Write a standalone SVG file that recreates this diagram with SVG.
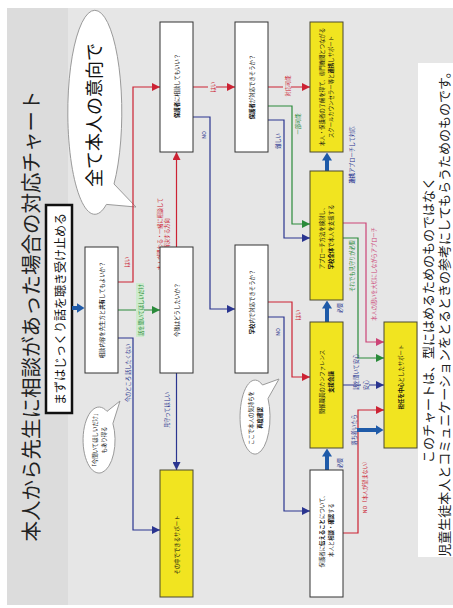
<svg xmlns="http://www.w3.org/2000/svg" width="453" height="608" viewBox="0 0 453 608">
<style>
.jp{font-family:"Noto Sans CJK JP","Noto Sans",sans-serif}
.nt{font-family:"Noto Sans CJK JP",sans-serif;font-size:5.4px;fill:#111;text-anchor:middle;dominant-baseline:central}
.lb{font-family:"Noto Sans CJK JP",sans-serif;font-size:5.2px;text-anchor:middle;dominant-baseline:central}
.wn rect{fill:#fff;stroke:#333;stroke-width:1}
.yn rect{fill:#f1e420;stroke:#4a4830;stroke-width:1}
.cr{fill:none;stroke:#cc2233;stroke-width:1.2}
.cg{fill:none;stroke:#2a8a3a;stroke-width:1.2}
.cb{fill:none;stroke:#2a3590;stroke-width:1.2}
.cp{fill:none;stroke:#cc4477;stroke-width:1.2}
.ct{fill:none;stroke:#1e5aa8;stroke-width:4}
.tr{fill:#cc2233}.tg{fill:#2a8a3a}.tb{fill:#2a3590}.tp{fill:#cc4477}.tt{fill:#1e5aa8}
.bub{fill:#fff;stroke:#9a9a9a;stroke-width:1}
</style>
<defs>
<marker id="ar" viewBox="0 0 8 8" refX="8" refY="4" markerWidth="8" markerHeight="8" markerUnits="userSpaceOnUse" orient="auto"><path d="M0,0 L8,4 L0,8 z" fill="#cc2233"/></marker>
<marker id="ag" viewBox="0 0 8 8" refX="8" refY="4" markerWidth="8" markerHeight="8" markerUnits="userSpaceOnUse" orient="auto"><path d="M0,0 L8,4 L0,8 z" fill="#2a8a3a"/></marker>
<marker id="ab" viewBox="0 0 8 8" refX="8" refY="4" markerWidth="8" markerHeight="8" markerUnits="userSpaceOnUse" orient="auto"><path d="M0,0 L8,4 L0,8 z" fill="#2a3590"/></marker>
<marker id="ap" viewBox="0 0 8 8" refX="8" refY="4" markerWidth="8" markerHeight="8" markerUnits="userSpaceOnUse" orient="auto"><path d="M0,0 L8,4 L0,8 z" fill="#cc4477"/></marker>
<marker id="at" viewBox="0 0 8 10" refX="0.5" refY="5" markerWidth="8" markerHeight="10" markerUnits="userSpaceOnUse" orient="auto"><path d="M0,0 L8,5 L0,10 z" fill="#1e5aa8"/></marker>
</defs>

<!-- background -->
<rect x="0" y="0" width="453" height="608" fill="#fff"/>
<rect x="7" y="8" width="446" height="597" fill="#e6e6e6"/>
<rect x="7" y="8" width="61" height="597" fill="#dcdcdc"/>
<rect x="418" y="63" width="35" height="494" fill="#fff"/>

<!-- title -->
<text class="jp" transform="translate(30 316) rotate(-90)" text-anchor="middle" dominant-baseline="central" font-size="20.5" fill="#222">本人から先生に相談があった場合の対応チャート</text>

<g id="start">
<rect x="46" y="205" width="26" height="208" fill="#fff" stroke="#111" stroke-width="2.5"/>
<text class="jp" transform="translate(59 309) rotate(-90)" text-anchor="middle" dominant-baseline="central" font-size="12" fill="#111">まずはじっくり話を聴き受け止める</text>
</g>

<g id="bubble-main">
<path class="bub" d="M114,184 A27 102 0 1 0 106.4,204.4 L136,207 Z"/>
<text class="jp" transform="translate(93 115) rotate(-90)" text-anchor="middle" dominant-baseline="central" font-size="18" fill="#111">全て本人の意向で</text>
</g>

<g id="bubble-a">
<path class="bub" d="M112.9,423.5 A16 33 0 1 1 107,411.4 L120,401 Z"/>
<text class="nt" transform="translate(99 440) rotate(-90)"><tspan x="0" dy="-4.5">「今聞いてほしいだけ」</tspan><tspan x="0" dy="9">もあり得る</tspan></text>
</g>

<g id="bubble-f">
<path class="bub" d="M268,398.5 A15 37 0 1 1 262.5,385 L279,379 Z"/>
<text class="nt" transform="translate(255 418) rotate(-90)"><tspan x="0" dy="-4.5">ここで本人の気持ちを</tspan><tspan x="0" dy="9" font-weight="bold">再度確認</tspan></text>
</g>

<!-- connectors -->
<g id="connectors">
<line class="ct" x1="72" y1="308" x2="77" y2="308" marker-end="url(#at)"/>
<polyline class="cr" points="118,282 133,282 133,87 160,87" marker-end="url(#ar)"/>
<polyline class="cg" points="118,310 160,310" marker-end="url(#ag)"/>
<polyline class="cb" points="118,338 133,338 133,530 160,530" marker-end="url(#ab)"/>
<polyline class="cr" points="176.5,247 176.5,152" marker-end="url(#ar)"/>
<polyline class="cb" points="176.5,373 176.5,470" marker-end="url(#ab)"/>
<polyline class="cr" points="193,87 235,87" marker-end="url(#ar)"/>
<polyline class="cb" points="193,117 210,117 210,309 235,309" marker-end="url(#ab)"/>
<polyline class="cr" points="268,87 310,87" marker-end="url(#ar)"/>
<polyline class="cg" points="268,106 292,106 292,224 310,224" marker-end="url(#ag)"/>
<polyline class="cb" points="268,120 284,120 284,238 310,238" marker-end="url(#ab)"/>
<polyline class="cr" points="268,302 292,302 292,377 310,377" marker-end="url(#ar)"/>
<polyline class="cb" points="268,317 284,317 284,511 310,511" marker-end="url(#ab)"/>
<line class="ct" x1="327" y1="171" x2="327" y2="160" marker-end="url(#at)"/>
<line class="ct" x1="327" y1="322" x2="327" y2="308" marker-end="url(#at)"/>
<line class="ct" x1="327" y1="470" x2="327" y2="456" marker-end="url(#at)"/>
<polyline class="cp" points="343,223 366,223 366,342 384,342" marker-end="url(#ap)"/>
<polyline class="cg" points="343,238 358,238 358,358 384,358" marker-end="url(#ag)"/>
<polyline class="cb" points="343,385 384,385" marker-end="url(#ab)"/>
<polyline class="cr" points="343,533 358,533 358,410 384,410" marker-end="url(#ar)"/>
<line class="ct" x1="357" y1="430" x2="376" y2="430" marker-end="url(#at)"/>

<!-- labels -->
<text class="lb tr" transform="translate(126 262) rotate(-90)">はい</text>
<rect x="136" y="283" width="8" height="54" fill="#cdebcd"/>
<text class="lb tg" transform="translate(140 310) rotate(-90)">話を聞いてほしいだけ</text>
<text class="lb tb" transform="translate(127 373) rotate(-90)">今のところ 話したくない</text>
<text class="lb tr" text-anchor="start" transform="translate(163 234) rotate(-90)"><tspan x="0" dy="-4">本人が関わる・一緒に相談して</tspan><tspan x="0" dy="7">解決する方向</tspan></text>
<text class="lb tb" transform="translate(166 410) rotate(-90)">見守ってほしい</text>
<rect x="208" y="80" width="8" height="14" fill="#e6e6e6"/>
<text class="lb tr" transform="translate(212 87) rotate(-90)">はい</text>
<text class="lb tb" transform="translate(203 135) rotate(-90)">NO</text>
<rect x="283" y="74" width="8" height="24" fill="#e6e6e6"/>
<text class="lb tr" transform="translate(287 86) rotate(-90)">対応可能</text>
<text class="lb tg" transform="translate(297 124) rotate(-90)">一部可能</text>
<text class="lb tb" transform="translate(277 141) rotate(-90)">難しい</text>
<text class="lb tr" transform="translate(297 315) rotate(-90)">はい</text>
<text class="lb tb" transform="translate(277 332) rotate(-90)">NO</text>
<text class="lb tb" transform="translate(351 155) rotate(-90)"><tspan font-weight="bold">連携</tspan>アプローチして対応</text>
<text class="lb tb" transform="translate(339 308) rotate(-90)">必要</text>
<text class="lb tb" transform="translate(339 463) rotate(-90)">必要</text>
<text class="lb tp" transform="translate(373 274) rotate(-90)">本人の思いを大切にしながらアプローチ</text>
<text class="lb tg" transform="translate(351 266) rotate(-90)">それでも見守りが必要</text>
<text class="lb tb" transform="translate(355 372) rotate(-90)">話を聞いて安心</text>
<rect x="361" y="379" width="8" height="13" fill="#e6e6e6"/>
<text class="lb tb" transform="translate(365 385) rotate(-90)">安心</text>
<text class="lb tb" transform="translate(353 430) rotate(-90)">落ち着いたら</text>
<text class="lb tr" transform="translate(364 486) rotate(-90)">NO（本人が望まない）</text>
</g>

<!-- nodes -->
<g id="nA" class="wn"><rect x="85" y="247" width="33" height="126"/>
<text class="nt" transform="translate(101.5 310) rotate(-90)">相談内容を先生方と<tspan font-weight="bold">共有</tspan>してもよいか？</text></g>
<g id="nB" class="wn"><rect x="160" y="247" width="33" height="126"/>
<text class="nt" transform="translate(176.5 310) rotate(-90)">今後はどうしたいか？</text></g>
<g id="nC" class="yn"><rect x="160" y="470" width="33" height="127"/>
<text class="nt" transform="translate(176.5 545) rotate(-90)">その中でできるサポート</text></g>
<g id="nD" class="wn"><rect x="160" y="22" width="33" height="130"/>
<text class="nt" transform="translate(176.5 86) rotate(-90)"><tspan font-weight="bold">保護者</tspan>に相談してもいい？</text></g>
<g id="nE" class="wn"><rect x="235" y="22" width="33" height="130"/>
<text class="nt" transform="translate(251.5 87) rotate(-90)"><tspan font-weight="bold">保護者</tspan>が対応できそうか？</text></g>
<g id="nF" class="wn"><rect x="235" y="245" width="33" height="128"/>
<text class="nt" transform="translate(251.5 302) rotate(-90)"><tspan font-weight="bold">学校</tspan>内で対応できそうか？</text></g>
<g id="nG" class="yn"><rect x="310" y="22" width="33" height="130"/>
<text class="nt" transform="translate(326.5 87) rotate(-90)"><tspan x="0" dy="-4.5">本人・保護者の了解を得て、専門機関とつながる</tspan><tspan x="0" dy="9">スクールカウンセラー等と<tspan font-weight="bold">連携</tspan>しサポート</tspan></text></g>
<g id="nH" class="yn"><rect x="310" y="171" width="33" height="129"/>
<text class="nt" transform="translate(326.5 237) rotate(-90)"><tspan x="0" dy="-4.5">アプローチ方法を検討し、</tspan><tspan x="0" dy="9"><tspan font-weight="bold">学校全体</tspan>で本人を支援する</tspan></text></g>
<g id="nI" class="yn"><rect x="310" y="322" width="33" height="126"/>
<text class="nt" transform="translate(326.5 382) rotate(-90)"><tspan x="0" dy="-4.5">関係職員のカンファレンス</tspan><tspan x="0" dy="9" font-weight="bold">支援会議</tspan></text></g>
<g id="nJ" class="wn"><rect x="310" y="470" width="33" height="127"/>
<text class="nt" transform="translate(326.5 530) rotate(-90)"><tspan x="0" dy="-4.5">保護者に<tspan font-weight="bold">伝えること</tspan>について、</tspan><tspan x="0" dy="9">本人と<tspan font-weight="bold">相談・確認</tspan>する</tspan></text></g>
<g id="nK" class="yn"><rect x="384" y="322" width="33" height="126"/>
<text class="nt" transform="translate(400.5 377) rotate(-90)"><tspan font-weight="bold">担任を中心</tspan>としたサポート</text></g>

<!-- note -->
<text class="jp" transform="translate(427 320) rotate(-90)" text-anchor="middle" dominant-baseline="central" font-size="13" fill="#222">このチャートは、型にはめるためのものではなく</text>
<text class="jp" transform="translate(443 311) rotate(-90)" text-anchor="middle" dominant-baseline="central" font-size="13" fill="#222">児童生徒本人とコミュニケーションをとるときの参考にしてもらうためのものです。</text>
</svg>
